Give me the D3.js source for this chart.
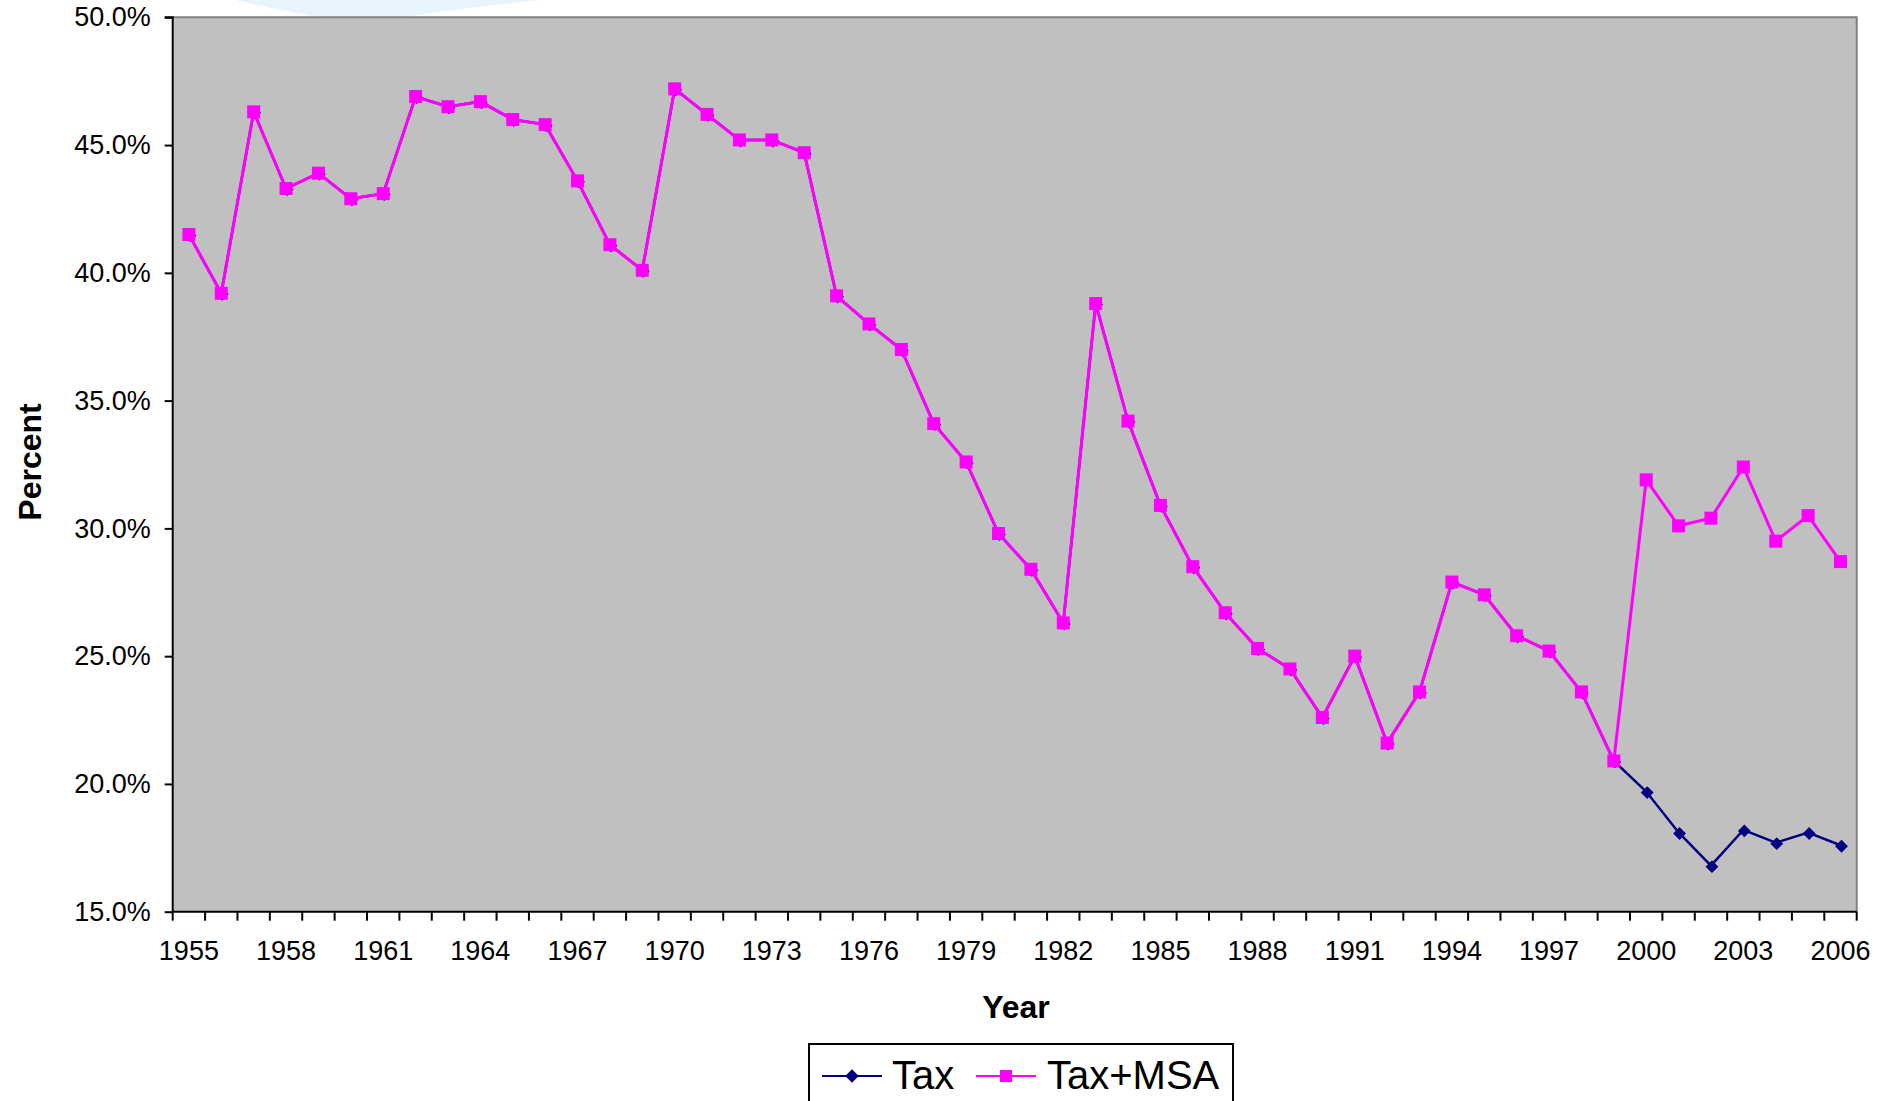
<!DOCTYPE html>
<html>
<head>
<meta charset="utf-8">
<script src="https://cdn.jsdelivr.net/npm/d3@7"></script>
<style>
  html, body { margin: 0; padding: 0; background: #ffffff; overflow: hidden; }
  svg { display: block; }
  text { font-family: "Liberation Sans", Arial, Helvetica, sans-serif; fill: #000; }
</style>
</head>
<body>
<svg id="chart" width="1880" height="1101"></svg>
<script>
const years = d3.range(1955, 2007);
const tax = [41.5,39.2,46.3,43.3,43.9,42.9,43.1,46.9,46.5,46.7,46.0,45.8,43.6,41.1,40.1,47.2,46.2,45.2,45.2,44.7,39.1,38.0,37.0,34.1,32.6,29.8,28.4,26.3,38.8,34.2,30.9,28.5,26.7,25.3,24.5,22.6,25.0,21.6,23.6,27.9,27.4,25.8,25.2,23.6,20.9,19.7,18.1,16.8,18.2,17.7,18.1,17.6];
const taxMsa = [41.5,39.2,46.3,43.3,43.9,42.9,43.1,46.9,46.5,46.7,46.0,45.8,43.6,41.1,40.1,47.2,46.2,45.2,45.2,44.7,39.1,38.0,37.0,34.1,32.6,29.8,28.4,26.3,38.8,34.2,30.9,28.5,26.7,25.3,24.5,22.6,25.0,21.6,23.6,27.9,27.4,25.8,25.2,23.6,20.9,31.9,30.1,30.4,32.4,29.5,30.5,28.7];
const yTicks = [15, 20, 25, 30, 35, 40, 45, 50];
const xTickLabels = [1955,1958,1961,1964,1967,1970,1973,1976,1979,1982,1985,1988,1991,1994,1997,2000,2003,2006];
const seriesNames = ["Tax", "Tax+MSA"];

const svg = d3.select("#chart");
const L = 172.7, R = 1856.7, T = 17.3, B = 911.7;

// decorative light-blue blob at top
svg.append("path")
  .attr("d", "M235,0 C270,8 300,14 330,19 L392,19 C450,10 500,4 540,0 Z")
  .attr("fill", "#e8f4fc");

const x = d3.scaleBand().domain(years).range([L, R]).padding(0);
const y = d3.scaleLinear().domain([15, 50]).range([B, T]);
const cx = d => x(d) + x.bandwidth() / 2;

// plot area
svg.append("rect").attr("x", L).attr("y", T).attr("width", R - L).attr("height", B - T)
  .attr("fill", "#c0c0c0");
// top & right border
svg.append("path").attr("d", `M${L},${T} L${R},${T} L${R},${B}`)
  .attr("fill", "none").attr("stroke", "#808080").attr("stroke-width", 2);

// Y axis
const yAxis = d3.axisLeft(y).tickValues(yTicks).tickSize(8).tickPadding(14)
  .tickFormat(d => d.toFixed(1) + "%");
const gy = svg.append("g").attr("transform", `translate(${L},0)`).call(yAxis);
gy.select(".domain").attr("stroke", "#000").attr("stroke-width", 2).attr("d", `M-8,${T}H0V${B}`);
gy.selectAll(".tick line").attr("stroke", "#000").attr("stroke-width", 2);
gy.selectAll(".tick text").attr("font-size", 27).attr("fill", "#000")
  .attr("font-family", '"Liberation Sans", Arial, sans-serif');

// X axis: ticks at category boundaries
const gx = svg.append("g").attr("transform", `translate(0,${B})`);
gx.append("line").attr("x1", L).attr("x2", R).attr("y1", 0).attr("y2", 0)
  .attr("stroke", "#000").attr("stroke-width", 2);
const boundaries = years.map(d => x(d)).concat([R]);
gx.selectAll("line.tk").data(boundaries).join("line").attr("class", "tk")
  .attr("x1", d => d).attr("x2", d => d).attr("y1", 0).attr("y2", 9)
  .attr("stroke", "#000").attr("stroke-width", 2);
gx.selectAll("text").data(xTickLabels).join("text")
  .attr("x", d => cx(d)).attr("y", 48).attr("text-anchor", "middle")
  .attr("font-size", 27).text(d => d);

// Axis titles
svg.append("text").attr("transform", "translate(41,462) rotate(-90)")
  .attr("text-anchor", "middle").attr("font-size", 32).attr("font-weight", "bold").text("Percent");
svg.append("text").attr("x", 1016).attr("y", 1018)
  .attr("text-anchor", "middle").attr("font-size", 32).attr("font-weight", "bold").text("Year");

// Lines
const taxColor = "#000080", msaColor = "#ff00ff";
const line = d3.line().x((d, i) => cx(years[i])).y(d => y(d));
svg.append("path").datum(tax).attr("d", line).attr("fill", "none")
  .attr("stroke", taxColor).attr("stroke-width", 2.5);
const diamond = d3.symbol().type(d3.symbolDiamond2).size(105);
svg.selectAll("path.dm").data(tax).join("path").attr("class", "dm")
  .attr("transform", (d, i) => `translate(${cx(years[i]) + 1},${y(d) + 1})`)
  .attr("d", diamond).attr("fill", taxColor);

svg.append("path").datum(taxMsa).attr("d", line).attr("fill", "none")
  .attr("stroke", msaColor).attr("stroke-width", 3);
svg.selectAll("rect.sq").data(taxMsa).join("rect").attr("class", "sq")
  .attr("x", (d, i) => cx(years[i]) - 6.5).attr("y", d => y(d) - 6.5)
  .attr("width", 13).attr("height", 13).attr("fill", msaColor);

// Legend
const lg = svg.append("g");
lg.append("rect").attr("x", 809).attr("y", 1044).attr("width", 424).attr("height", 80)
  .attr("fill", "#fff").attr("stroke", "#000").attr("stroke-width", 2);
lg.append("line").attr("x1", 822).attr("x2", 882).attr("y1", 1076).attr("y2", 1076)
  .attr("stroke", taxColor).attr("stroke-width", 2);
lg.append("path").attr("transform", "translate(852,1076)").attr("d", d3.symbol().type(d3.symbolDiamond2).size(115)).attr("fill", taxColor);
lg.append("text").attr("x", 892).attr("y", 1089).attr("font-size", 40).text(seriesNames[0]);
lg.append("line").attr("x1", 976).attr("x2", 1036).attr("y1", 1076).attr("y2", 1076)
  .attr("stroke", msaColor).attr("stroke-width", 2);
lg.append("rect").attr("x", 1000).attr("y", 1070).attr("width", 12).attr("height", 12).attr("fill", msaColor);
lg.append("text").attr("x", 1047).attr("y", 1089).attr("font-size", 40).text(seriesNames[1]);
</script>
</body>
</html>
